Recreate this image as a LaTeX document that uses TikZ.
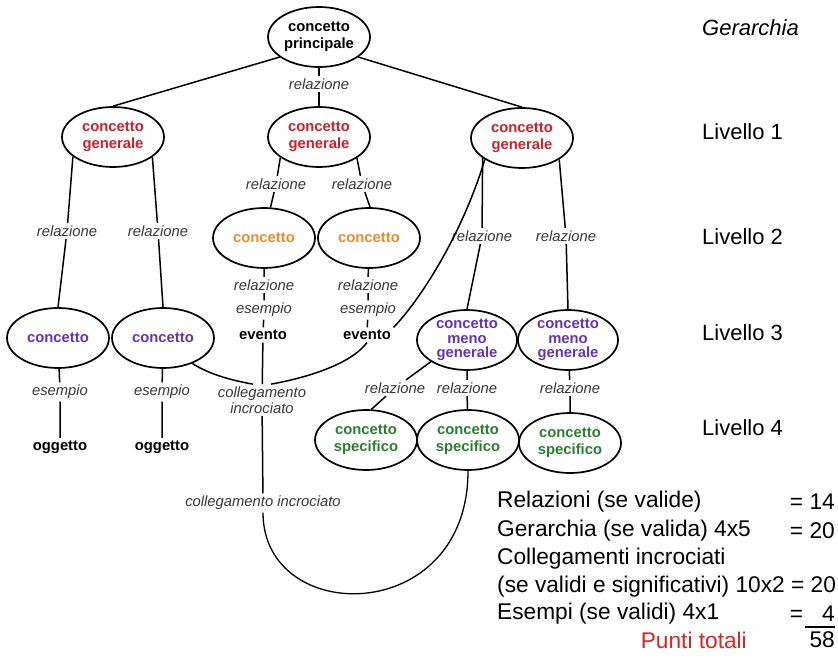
\documentclass[tikz,border=0pt]{standalone}
\usepackage{fontspec}
\setmainfont{Liberation Sans}
\usetikzlibrary{shapes.geometric}
\definecolor{cred}{RGB}{205,32,42}
\definecolor{corange}{RGB}{232,140,50}
\definecolor{cpurple}{RGB}{98,52,182}
\definecolor{cgreen}{RGB}{38,128,48}
\definecolor{labgray}{RGB}{55,55,55}
\definecolor{ptred}{RGB}{212,38,38}
\begin{document}
\begin{tikzpicture}[x=1pt,y=-1pt,
  ell/.style={ellipse, draw=black, line width=1.7pt, inner sep=0pt,
    minimum width=102pt, minimum height=60pt, align=center,
    font=\fontsize{14.8}{17}\selectfont\bfseries},
  lab/.style={inner sep=2.5pt, align=center, text=labgray,
    font=\fontsize{14.8}{15.5}\selectfont\itshape},
  bl/.style={inner sep=2.5pt, font=\fontsize{14.8}{17}\selectfont\bfseries},
  conn/.style={line width=1.5pt},
  side/.style={inner sep=0pt, anchor=west, font=\fontsize{22}{26}\selectfont},
  score/.style={inner sep=0pt, font=\fontsize{22.7}{26}\selectfont}
]
\useasboundingbox (0,0) rectangle (838,658);

% ellipses
\node[ell] (P)   at (319,37)  {concetto\\principale};
\node[ell,text=cred] (gL) at (113,137) {concetto\\generale};
\node[ell,text=cred] (gM) at (319,137) {concetto\\generale};
\node[ell,text=cred] (gR) at (522,138) {concetto\\generale};
\node[ell,text=corange] (oL) at (264,238) {concetto};
\node[ell,text=corange] (oR) at (369,238) {concetto};
\node[ell,text=cpurple] (cP1) at (58,338) {concetto};
\node[ell,text=cpurple] (cP2) at (163,338) {concetto};
\node[ell,text=cpurple,minimum width=100pt,inner ysep=-6pt,
  font=\fontsize{14.8}{14.5}\selectfont\bfseries] (mg1) at (467,340) {concetto\\meno\\generale};
\node[ell,text=cpurple,minimum width=100pt,inner ysep=-6pt,
  font=\fontsize{14.8}{14.5}\selectfont\bfseries] (mg2) at (568,340) {concetto\\meno\\generale};
\node[ell,text=cgreen] (s1) at (366,440) {concetto\\specifico};
\node[ell,text=cgreen] (s2) at (468,440) {concetto\\specifico};
\node[ell,text=cgreen] (s3) at (570,443) {concetto\\specifico};

% labels
\node[lab] (rTop) at (319,84) {relazione};
\node[lab] (rL1) at (67,231) {relazione};
\node[lab] (rL2) at (158,231) {relazione};
\node[lab] (rM1) at (276,184) {relazione};
\node[lab] (rM2) at (362,184) {relazione};
\node[lab] (rO1) at (264,285) {relazione};
\node[lab] (eO1) at (264,310) {esempio};
\node[bl]  (evL) at (263,335) {evento};
\node[lab] (rO2) at (368,285) {relazione};
\node[lab] (eO2) at (368,310) {esempio};
\node[bl]  (evR) at (367,335) {evento};
\node[lab] (rR1) at (482,236) {relazione};
\node[lab] (rR2) at (566,236) {relazione};
\node[lab] (rMg1) at (395,388) {relazione};
\node[lab] (rMg2) at (467,388) {relazione};
\node[lab] (rMg3) at (570,388) {relazione};
\node[lab] (eP1) at (60,392) {esempio};
\node[bl]  (oP1) at (60,447) {oggetto};
\node[lab] (eP2) at (162,392) {esempio};
\node[bl]  (oP2) at (162,447) {oggetto};
\node[lab] (ciU) at (262,400) {collegamento\\incrociato};
\node[lab] (ciL) at (263,503) {collegamento incrociato};

% connectors
\draw[conn] (P.207) -- (gL.north);
\draw[conn] (P.-27) -- (gR.north);
\draw[conn] (P) -- (rTop) -- (gM);
\draw[conn] (gL.206) -- (rL1) -- (cP1.north);
\draw[conn] (gL.-27) -- (rL2) -- (cP2.north);
\draw[conn] (gM.208) -- (rM1) -- (oL.78);
\draw[conn] (gM.-29) -- (rM2) -- (oR.88);
\draw[conn] (oL) -- (rO1) -- (eO1) -- (evL);
\draw[conn] (oR) -- (rO2) -- (eO2) -- (evR);
\draw[conn] (gR.207) -- (rR1) -- (mg1.north);
\draw[conn] (gR.-30) -- (rR2) -- (mg2.north);
\draw[conn] (mg1.211) -- (rMg1) -- (s1.80);
\draw[conn] (mg1) -- (rMg2) -- (s2);
\draw[conn] (mg2) -- (rMg3) -- (s3);
\draw[conn] (cP1) -- (eP1) -- (oP1);
\draw[conn] (cP2) -- (eP2) -- (oP2);
\draw[conn] (gR.210) .. controls (462,235) and (420,300) .. (evR.north east);
\draw[conn] (cP2.-41) .. controls (210,375) and (235,381) .. (ciU.120);
\draw[conn] (ciU.60) .. controls (305,378) and (350,365) .. (evR.south);
\draw[conn] (evL) -- (ciU) -- (ciL);
\draw[line width=1.3pt] (ciL.south) .. controls (263,627) and (468,627) .. (s2.south);

% right side
\node[side,font=\fontsize{22}{26}\selectfont\itshape] (ger) at (702,28) {Gerarchia};
\node[side] (l1) at (702,132) {Livello 1};
\node[side] (l2) at (702,237) {Livello 2};
\node[side] (l3) at (702,333) {Livello 3};
\node[side] (l4) at (702,428) {Livello 4};

\node[score,anchor=west] (t1) at (497,502) {Relazioni (se valide)};
\node[score,anchor=east] (v1) at (835,502) {= 14};
\node[score,anchor=west] (t2) at (497,531) {Gerarchia (se valida) 4x5};
\node[score,anchor=east] (v2) at (835,531) {= 20};
\node[score,anchor=west] (t3) at (497,559) {Collegamenti incrociati};
\node[score,anchor=west] (t4) at (497,587) {(se validi e significativi) 10x2 = 20};
\node[score,anchor=west] (t5) at (497,614) {Esempi (se validi) 4x1};
\node[score,anchor=east] (v5) at (835,614) {= \phantom{1}4};
\node[score,anchor=east,text=ptred] (t6) at (747,640) {Punti totali};
\node[score,anchor=east] (v6) at (835,640) {58};
\coordinate (rulea) at (805,627);
\coordinate (ruleb) at (835,627);
\draw[line width=1.2pt] (rulea) -- (ruleb);
\end{tikzpicture}
\end{document}
